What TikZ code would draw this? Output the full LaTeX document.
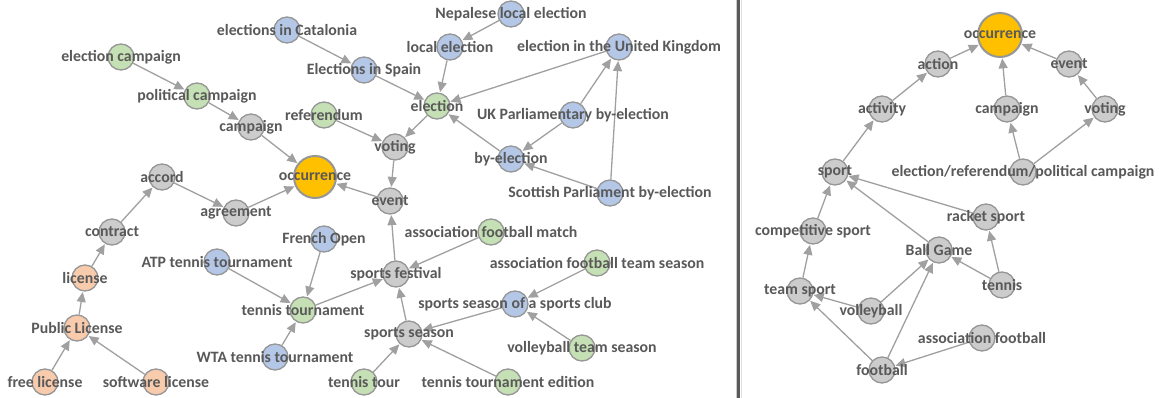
\documentclass[tikz,border=0pt]{standalone}
\usepackage{fontspec}
\setmainfont{Carlito}
\usetikzlibrary{arrows.meta}
\definecolor{gfill}{HTML}{CCCCCC}
\definecolor{bfill}{HTML}{B4C7E7}
\definecolor{grfill}{HTML}{C5E0B4}
\definecolor{ofill}{HTML}{F8CBAD}
\definecolor{yfill}{HTML}{FFC000}
\definecolor{bord}{HTML}{969696}
\definecolor{edgec}{HTML}{A0A0A0}
\definecolor{txt}{HTML}{595959}
\tikzset{
  nd/.style={circle,draw=bord,line width=1.3pt,minimum size=26pt,inner sep=0pt},
  gn/.style={nd,fill=gfill},
  bn/.style={nd,fill=bfill},
  grn/.style={nd,fill=grfill},
  on/.style={nd,fill=ofill},
  occ/.style={nd,fill=yfill,line width=2pt,minimum size=42pt},
  lab/.style={text=txt,font=\fontsize{15.8}{18}\selectfont\bfseries,inner sep=0pt},
  ed/.style={draw=edgec,line width=1.3pt,-{Triangle[length=10pt,width=9pt]},shorten >=0.5pt}
}
\begin{document}
\begin{tikzpicture}[x=1pt,y=-1pt]
\useasboundingbox (0,0) rectangle (1159,398);
\fill[white] (0,0) rectangle (1159,398);
% divider
\fill[txt] (737,0) rectangle (740,398);
\draw[gray!40,line width=0.8pt] (736,0) -- (736,398);
\draw[gray!25,line width=0.6pt] (741.5,0) -- (741.5,398);
% ---------- left panel nodes ----------
\node[bn] (cat) at (287,30) {};
\node[bn] (spain) at (364,70) {};
\node[grn] (ecamp) at (121,57) {};
\node[grn] (pcamp) at (197,96) {};
\node[gn] (camp) at (251,127) {};
\node[grn] (ref) at (324,115) {};
\node[occ] (occ) at (315,177) {};
\node[gn] (accord) at (162,177) {};
\node[gn] (agree) at (236,213) {};
\node[gn] (contract) at (112,232) {};
\node[on] (lic) at (85,278) {};
\node[on] (publ) at (77,328) {};
\node[on] (free) at (45,382) {};
\node[on] (soft) at (156,382) {};
\node[bn] (atp) at (217,262) {};
\node[bn] (french) at (324,239) {};
\node[grn] (ttour) at (303,310) {};
\node[bn] (wta) at (275,357) {};
\node[bn] (nepal) at (511,14) {};
\node[bn] (local) at (450,47) {};
\node[bn] (uk) at (619,47) {};
\node[grn] (elec) at (437,106) {};
\node[bn] (ukby) at (573,115) {};
\node[gn] (voting) at (395,147) {};
\node[bn] (byel) at (511,159) {};
\node[bn] (scot) at (610,193) {};
\node[gn] (event) at (390,201) {};
\node[gn] (sfest) at (396,274) {};
\node[grn] (afm) at (491,232) {};
\node[grn] (afts) at (597,263) {};
\node[bn] (sssc) at (515,304) {};
\node[gn] (sseason) at (409,334) {};
\node[grn] (vts) at (582,348) {};
\node[grn] (tte) at (508,382) {};
\node[grn] (ttr) at (364,382) {};
% ---------- right panel nodes ----------
\node[occ,minimum size=44pt] (rocc) at (1000,35) {};
\node[gn] (raction) at (938,64) {};
\node[gn] (revent) at (1069,64) {};
\node[gn] (ractivity) at (882,109) {};
\node[gn] (rcamp) at (1007,109) {};
\node[gn] (rvoting) at (1105,109) {};
\node[gn] (rsport) at (835,172) {};
\node[gn] (rerp) at (1023,172) {};
\node[gn] (rracket) at (986,217) {};
\node[gn] (rcomp) at (813,231) {};
\node[gn] (rball) at (939,250) {};
\node[gn] (rteam) at (800,291) {};
\node[gn] (rtennis) at (1002,285) {};
\node[gn] (rvolley) at (871,311) {};
\node[gn] (rassoc) at (982,338) {};
\node[gn] (rfoot) at (882,370) {};
% ---------- edges ----------
\foreach \a/\b in {ecamp/pcamp,pcamp/camp,camp/occ,cat/spain,spain/elec,nepal/local,local/elec,
  uk/elec,ukby/uk,ukby/byel,scot/byel,scot/uk,byel/elec,elec/voting,ref/voting,voting/event,
  event/occ,accord/agree,agree/occ,contract/accord,lic/contract,publ/lic,free/publ,soft/publ,
  atp/ttour,french/ttour,wta/ttour,ttour/sfest,sfest/event,afm/sfest,sseason/sfest,sssc/sseason,
  afts/sssc,vts/sssc,ttr/sseason,tte/sseason,
  raction/rocc,revent/rocc,rcamp/rocc,ractivity/raction,rvoting/revent,rsport/ractivity,
  rerp/rcamp,rerp/rvoting,rcomp/rsport,rracket/rsport,rball/rsport,rteam/rcomp,
  rtennis/rracket,rtennis/rball,rvolley/rball,rvolley/rteam,rfoot/rball,rfoot/rteam,rassoc/rfoot}
  \path[ed] (\a) -- (\b);
% ---------- labels ----------
\foreach \n/\t in {cat/elections in Catalonia,spain/Elections in Spain,ecamp/election campaign,
  pcamp/political campaign,camp/campaign,ref/referendum,occ/occurrence,accord/accord,
  agree/agreement,contract/contract,lic/license,publ/Public License,free/free license,
  soft/software license,atp/ATP tennis tournament,french/French Open,ttour/tennis tournament,
  wta/WTA tennis tournament,nepal/Nepalese local election,local/local election,
  uk/election in the United Kingdom,elec/election,ukby/UK Parliamentary by-election,
  voting/voting,byel/by-election,scot/Scottish Parliament by-election,event/event,
  sfest/sports festival,afm/association football match,afts/association football team season,
  sssc/sports season of a sports club,sseason/sports season,vts/volleyball team season,
  tte/tennis tournament edition,ttr/tennis tour,
  rocc/occurrence,raction/action,revent/event,ractivity/activity,rcamp/campaign,rvoting/voting,
  rsport/sport,rerp/{election/referendum/political campaign},rracket/racket sport,
  rcomp/competitive sport,rball/Ball Game,rteam/team sport,rtennis/tennis,rvolley/volleyball,
  rassoc/association football,rfoot/football}
  \node[lab] at (\n) {\t};
\end{tikzpicture}
\end{document}
